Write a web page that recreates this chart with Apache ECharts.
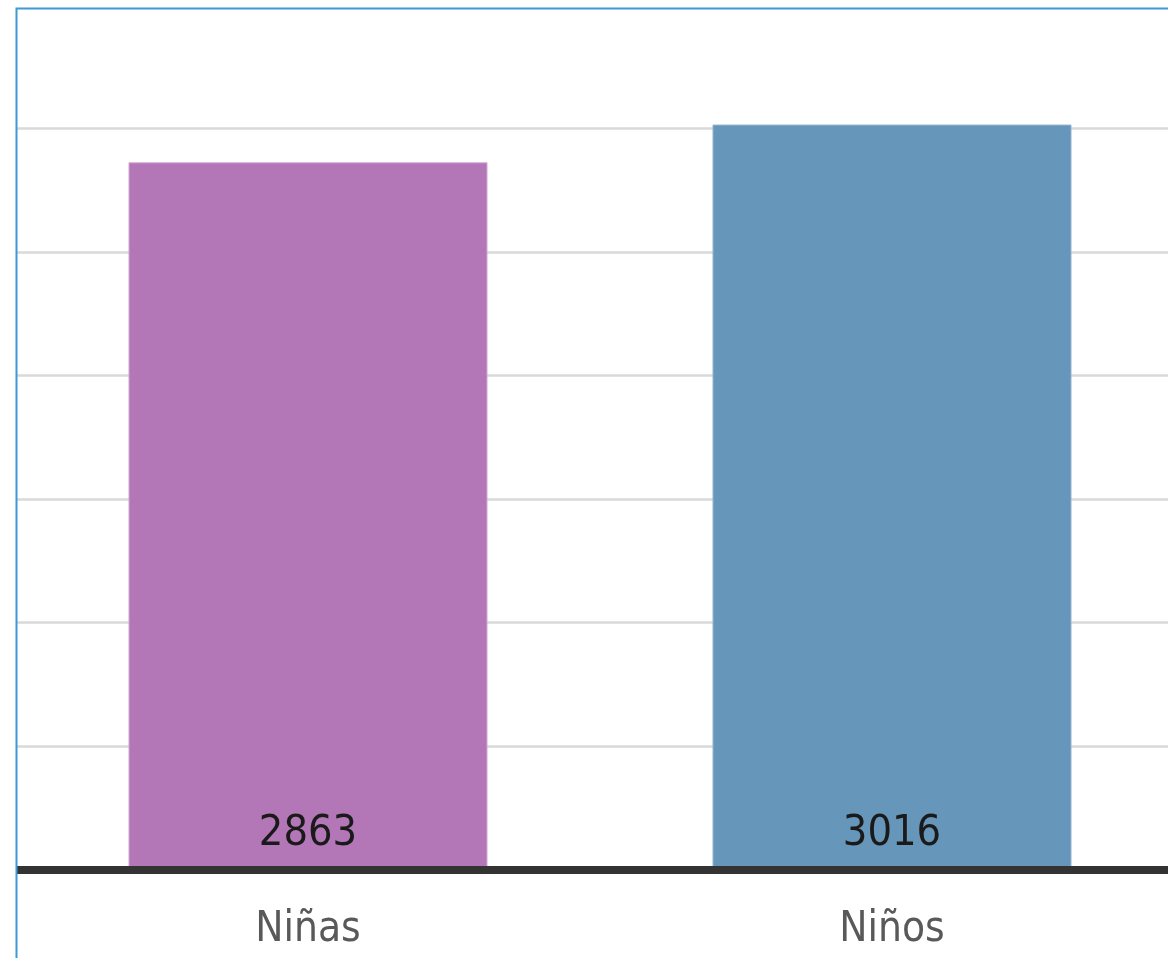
<!DOCTYPE html>
<html>
<head>
<meta charset="utf-8">
<script src="https://cdn.jsdelivr.net/npm/echarts@6/dist/echarts.min.js"></script>
<style>
  html, body { margin: 0; padding: 0; background: #fff; overflow: hidden; }
  #chart { width: 1184px; height: 958px; }
</style>
</head>
<body>
<div id="chart"></div>
<script>
// datos del gráfico
var categorias = ['Niñas', 'Niños'];
var valores = [2863, 3016];
var colores = ['#b377b8', '#6696b9'];
var bordes = ['#cfa6d3', '#93b5cf'];

var fuente = "'Liberation Sans Narrow', 'DejaVu Sans Condensed', 'Liberation Sans', sans-serif";

var chart = echarts.init(document.getElementById('chart'));

var option = {
    backgroundColor: '#ffffff',
    animation: false,
    grid: {
        left: 16,
        right: 0,
        top: 5,
        bottom: 88.5
    },
    xAxis: {
        type: 'category',
        data: categorias,
        z: 10,
        axisLine: { show: true, lineStyle: { color: '#333333', width: 8, cap: 'butt' } },
        axisTick: { show: false },
        axisLabel: {
            color: '#595959',
            fontFamily: fuente,
            fontSize: 42,
            margin: 40
        }
    },
    yAxis: {
        type: 'value',
        min: 0,
        max: 3500,
        interval: 500,
        axisLine: { show: false },
        axisTick: { show: false },
        axisLabel: { show: false },
        splitLine: {
            show: true,
            showMaxLine: false,
            lineStyle: { color: '#d9d9d9', width: 2.5 }
        }
    },
    series: [{
        type: 'bar',
        barWidth: 359,
        data: valores.map(function(v, i) {
            return {
                value: v,
                itemStyle: { color: colores[i], borderColor: bordes[i], borderWidth: 1 }
            };
        }),
        label: {
            show: true,
            position: 'insideBottom',
            distance: 14,
            color: '#1a1a1a',
            fontFamily: fuente,
            fontSize: 43,
            formatter: '{c}'
        }
    }],
    graphic: [{
        type: 'polyline',
        shape: { points: [[16.5, 958], [16.5, 8.5], [1184, 8.5]] },
        style: { stroke: '#3d9ad6', lineWidth: 2, fill: null },
        z: 100
    }]
};

chart.setOption(option);
</script>
</body>
</html>
